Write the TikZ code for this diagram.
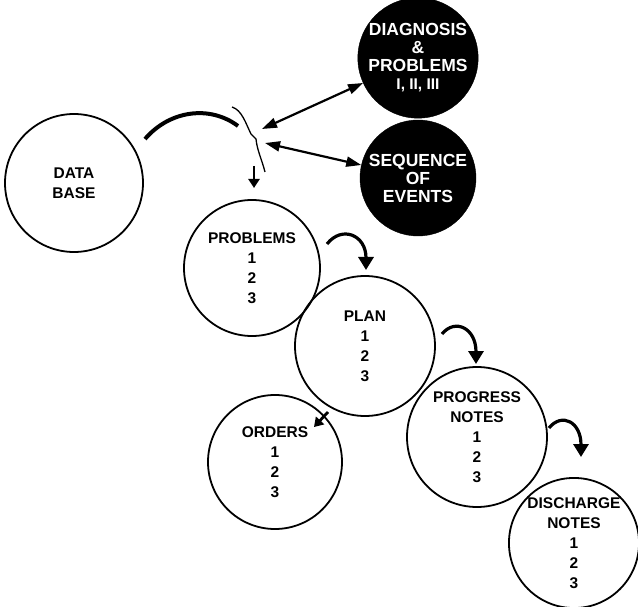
\documentclass[tikz,border=0pt]{standalone}
\usepackage{fontspec}
\setmainfont{Liberation Sans}
\usetikzlibrary{arrows.meta}
\begin{document}
\begin{tikzpicture}[x=1pt,y=-1pt,
  wc/.style={circle,draw=black,line width=1.8pt,inner sep=0pt,align=center,
    font=\bfseries\fontsize{15.5}{20}\selectfont},
  bc/.style={circle,fill=black,draw=black,inner sep=0pt,align=center,text=white,
    font=\bfseries\fontsize{17.5}{18}\selectfont},
  flow/.style={line width=3.2pt,-{Triangle[width=15pt,length=13pt]}},
  dbl/.style={line width=2.2pt,{Triangle[width=10pt,length=15pt]}-{Triangle[width=10pt,length=15pt]}}]
\useasboundingbox (0,0) rectangle (638,607);
\node[wc,minimum size=138pt] (db) at (74,183) {DATA\\BASE};
\node[bc,minimum size=116pt] (diag) at (418,58) {DIAGNOSIS\\\&\\PROBLEMS\\{\fontsize{15.5}{16}\selectfont I, II, III}};
\node[bc,minimum size=116pt] (seq) at (418,178) {SEQUENCE\\OF\\EVENTS};
\node[wc,minimum size=136pt] (prob) at (252,268) {PROBLEMS\\1\\2\\3};
\node[wc,minimum size=140pt] (plan) at (365,346) {PLAN\\1\\2\\3};
\node[wc,minimum size=134pt] (ord) at (275,462) {ORDERS\\1\\2\\3};
\node[wc,minimum size=140pt] (prog) at (477,437) {PROGRESS\\NOTES\\1\\2\\3};
\node[wc,minimum size=128pt] (dis) at (574,543) {DISCHARGE\\NOTES\\1\\2\\3};
% feed from data base
\coordinate (a0) at (145,139);
\coordinate (a1) at (238,126);
\draw[line width=4pt] (a0) .. controls (170,110) and (210,105) .. (a1);
% bracket
\coordinate (b0) at (232,107);
\coordinate (b1) at (265,172);
\draw[line width=1.3pt] (b0) .. controls (242,110) and (246,124) .. (251,134)
  -- (256,139) .. controls (257,150) and (262,160) .. (b1);
\coordinate (d0) at (254,166);
\coordinate (d1) at (254,188);
\draw[flow,line width=2.8pt,-{Triangle[width=11pt,length=9pt]}] (d0) -- (d1);
% double arrows to black circles
\coordinate (c1) at (262,129);
\coordinate (c2) at (265,143);
\draw[dbl] (c1) -- (diag);
\draw[dbl] (c2) -- (seq);
% curved flow arrows
\coordinate (p0) at (327,244);
\coordinate (p1) at (366,270);
\draw[flow] (p0) .. controls (342,225) and (366,235) .. (p1);
\coordinate (q0) at (442,334);
\coordinate (q1) at (476,364);
\draw[flow] (q0) .. controls (455,318) and (476,328) .. (q1);
\coordinate (r0) at (549,428);
\coordinate (r1) at (581,457);
\draw[flow] (r0) .. controls (562,412) and (581,422) .. (r1);
\coordinate (s0) at (328,412);
\coordinate (s1) at (314,427);
\draw[flow,line width=2.8pt,-{Triangle[width=11pt,length=9pt]}] (s0) -- (s1);
\end{tikzpicture}
\end{document}
